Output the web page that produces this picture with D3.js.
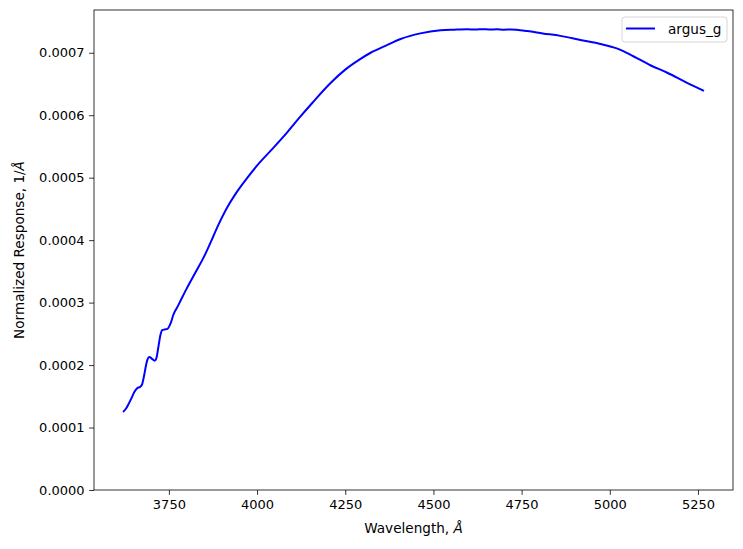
<!DOCTYPE html>
<html>
<head>
<meta charset="utf-8">
<script src="https://cdn.jsdelivr.net/npm/d3@7"></script>
<style>
  body { margin: 0; background: #fff; }
  svg { display: block; font-family: "DejaVu Sans", sans-serif; }
</style>
</head>
<body>
<svg id="chart" width="743" height="549"></svg>
<script>
// filter response curve, wavelength in Angstrom
const wavelengths = [3620, 3628, 3636, 3644, 3652, 3660, 3668, 3674, 3680, 3686, 3690, 3695,
  3702, 3710, 3715, 3721, 3726, 3731, 3738, 3746, 3755, 3763, 3775, 3783, 3800, 3826, 3850,
  3868, 3890, 3916, 3939, 3970, 4001, 4040, 4086, 4120, 4157, 4209, 4250, 4290, 4322, 4364,
  4407, 4463, 4520, 4560, 4596, 4620, 4640, 4660, 4680, 4700, 4720, 4766, 4810, 4860, 4920,
  4974, 5020, 5068, 5115, 5163, 5215, 5267];
const responseE4 = [1.25, 1.30, 1.38, 1.47, 1.57, 1.63, 1.65, 1.69, 1.84, 2.02, 2.10, 2.13,
  2.10, 2.07, 2.12, 2.32, 2.48, 2.56, 2.57, 2.58, 2.67, 2.81, 2.94, 3.03, 3.22, 3.49, 3.74,
  3.96, 4.24, 4.53, 4.74, 4.98, 5.20, 5.44, 5.73, 5.96, 6.20, 6.52, 6.73, 6.89, 7.00, 7.11,
  7.22, 7.31, 7.36, 7.37, 7.375, 7.372, 7.378, 7.371, 7.377, 7.370, 7.372, 7.348, 7.31, 7.27, 7.20,
  7.14, 7.07, 6.94, 6.80, 6.68, 6.53, 6.39];
const seriesName = "argus_g";
const xTicks = [3750, 4000, 4250, 4500, 4750, 5000, 5250];
const yTicks = [0, 0.0001, 0.0002, 0.0003, 0.0004, 0.0005, 0.0006, 0.0007];

const data = wavelengths.map((w, i) => ({ w: w, v: responseE4[i] * 1e-4 }));

const margin = { left: 94, right: 10, top: 10, bottom: 59 };
const width = 743 - margin.left - margin.right;
const height = 549 - margin.top - margin.bottom;

const svg = d3.select("#chart");
const g = svg.append("g").attr("transform", `translate(${margin.left},${margin.top})`);

const xMin = d3.min(wavelengths), xMax = d3.max(wavelengths);
const pad = (xMax - xMin) * 0.05;
const x = d3.scaleLinear().domain([xMin - pad, xMax + pad]).range([0, width]);
const yTop = d3.max(data, d => d.v) + (d3.max(data, d => d.v) - d3.min(data, d => d.v)) * 0.05;
const y = d3.scaleLinear().domain([0, yTop]).range([height, 0]);

const xAxis = g.append("g")
  .attr("transform", `translate(0,${height})`)
  .call(d3.axisBottom(x).tickValues(xTicks).tickSize(4.9).tickPadding(4.5).tickFormat(d3.format("d")));
const yAxis = g.append("g")
  .call(d3.axisLeft(y).tickValues(yTicks).tickSize(4.9).tickPadding(4.5).tickFormat(d3.format(".4f")));

[xAxis, yAxis].forEach(a => {
  a.select(".domain").remove();
  a.selectAll("text").attr("font-size", 13).attr("fill", "#000").attr("font-family", "DejaVu Sans");
  a.selectAll("line").attr("stroke", "#000").attr("stroke-width", 0.8);
});

g.append("rect")
  .attr("width", width).attr("height", height)
  .attr("fill", "none").attr("stroke", "#000").attr("stroke-width", 0.8);

const line = d3.line().x(d => x(d.w)).y(d => y(d.v)).curve(d3.curveMonotoneX);
g.append("path").datum(data)
  .attr("d", line)
  .attr("fill", "none").attr("stroke", "#0000ff").attr("stroke-width", 2);

// axis labels
svg.append("text")
  .attr("x", margin.left + width / 2).attr("y", 533)
  .attr("text-anchor", "middle").attr("font-size", 13.6)
  .text("Wavelength, ").append("tspan").attr("font-style", "italic").text("Å");
svg.append("text")
  .attr("transform", `translate(24,${margin.top + height / 2}) rotate(-90)`)
  .attr("text-anchor", "middle").attr("font-size", 13.6)
  .text("Normalized Response, 1/").append("tspan").attr("font-style", "italic").text("Å");

// legend
const lg = g.append("g").attr("transform", `translate(${width - 111},7)`);
lg.append("rect").attr("width", 105).attr("height", 25).attr("rx", 3)
  .attr("fill", "#fff").attr("fill-opacity", 0.8).attr("stroke", "#ccc").attr("stroke-width", 0.8);
lg.append("line").attr("x1", 4).attr("x2", 33).attr("y1", 11.5).attr("y2", 11.5)
  .attr("stroke", "#0000ff").attr("stroke-width", 2);
lg.append("text").attr("x", 46).attr("y", 16.5).attr("font-size", 13.6).text(seriesName);
</script>
</body>
</html>
